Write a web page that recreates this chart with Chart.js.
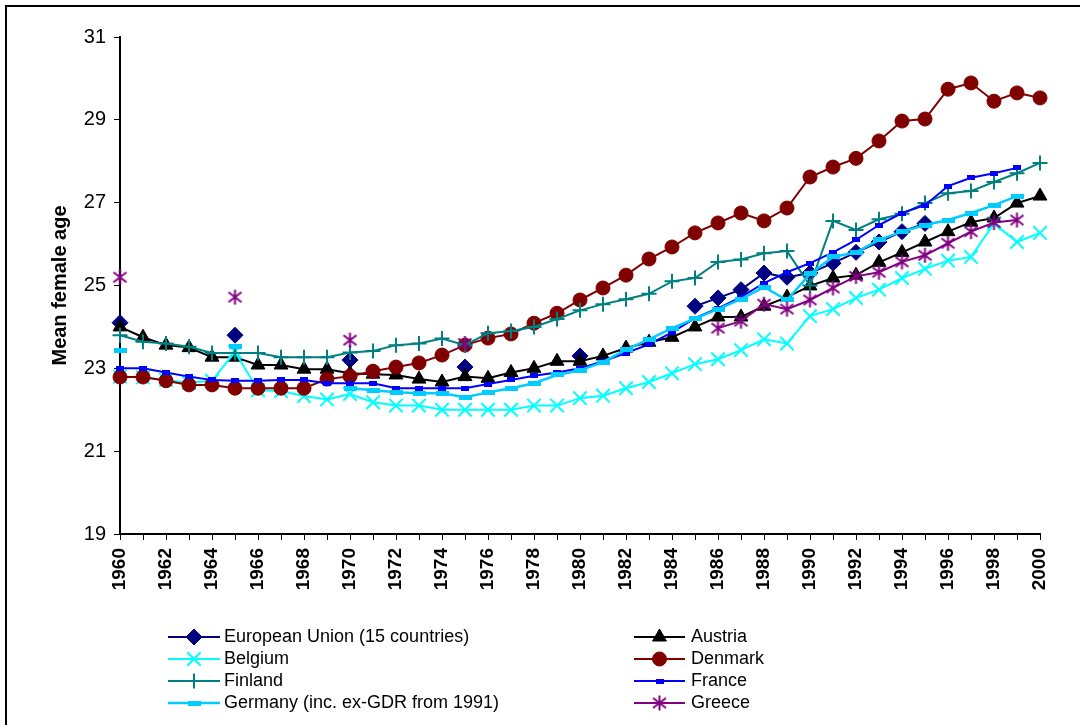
<!DOCTYPE html>
<html><head><meta charset="utf-8">
<script src="https://cdn.jsdelivr.net/npm/chart.js@4.4.1/dist/chart.umd.min.js"></script>
<style>html,body{margin:0;padding:0;background:#fff}canvas{display:block}</style>
</head><body>
<canvas id="c" width="1080" height="725" style="width:1080px;height:725px"></canvas>
<script>
const years = ['1960','1961','1962','1963','1964','1965','1966','1967','1968','1969',
  '1970','1971','1972','1973','1974','1975','1976','1977','1978','1979',
  '1980','1981','1982','1983','1984','1985','1986','1987','1988','1989',
  '1990','1991','1992','1993','1994','1995','1996','1997','1998','1999','2000'];
const yTicks = [19, 21, 23, 25, 27, 29, 31];
const euValues = [24.1,null,null,null,null,23.8,null,null,null,null,
  23.2,null,null,null,null,23.03,null,null,null,null,
  23.3,null,null,null,null,24.5,24.7,24.9,25.3,25.2,
  25.3,25.54,25.8,26.05,26.3,26.5,null,null,null,null,null];
const austriaValues = [24.0,23.75,23.56,23.5,23.27,23.27,23.08,23.08,22.98,22.98,
  22.88,22.86,22.84,22.74,22.67,22.8,22.76,22.9,23.0,23.17,
  23.17,23.3,23.49,23.63,23.75,24.0,24.24,24.24,24.5,24.72,
  24.99,25.18,25.25,25.56,25.8,26.05,26.3,26.53,26.63,26.99,27.16];
const belgiumValues = [22.8,22.78,22.72,22.65,22.7,23.4,22.47,22.45,22.33,22.25,
  22.38,22.18,22.1,22.1,22.0,22.0,22.0,22.0,22.1,22.1,
  22.28,22.34,22.52,22.67,22.88,23.1,23.22,23.44,23.7,23.6,
  24.26,24.43,24.7,24.9,25.18,25.4,25.6,25.69,26.5,26.05,26.27];
const denmarkValues = [22.79,22.79,22.7,22.6,22.6,22.52,22.52,22.52,22.52,22.74,
  22.81,22.93,23.03,23.13,23.32,23.56,23.73,23.83,24.09,24.33,
  24.65,24.94,25.25,25.64,25.93,26.27,26.51,26.75,26.56,26.87,
  27.62,27.86,28.07,28.49,28.97,29.02,29.74,29.89,29.45,29.65,29.53];
const finlandValues = [23.8,23.64,23.6,23.52,23.37,23.37,23.37,23.27,23.27,23.27,
  23.38,23.42,23.56,23.6,23.72,23.56,23.85,23.9,24.0,24.19,
  24.4,24.55,24.67,24.8,25.1,25.18,25.57,25.63,25.78,25.83,
  25.0,26.56,26.34,26.6,26.73,26.99,27.23,27.28,27.5,27.71,27.96];
const franceValues = [23.0,23.0,22.9,22.8,22.72,22.7,22.7,22.72,22.72,22.64,
  22.64,22.64,22.52,22.52,22.52,22.52,22.62,22.72,22.82,22.9,
  23.0,23.17,23.37,23.58,23.87,24.21,24.45,24.72,25.06,25.32,
  25.54,25.8,26.1,26.46,26.75,26.94,27.4,27.6,27.71,27.84,null];
const germanyValues = [23.44,null,null,null,null,23.52,null,null,null,null,
  22.52,22.47,22.42,22.4,22.4,22.3,22.42,22.52,22.64,22.84,
  22.95,23.15,23.45,23.7,23.97,24.2,24.43,24.67,24.96,24.65,
  25.28,25.69,25.8,26.1,26.3,26.46,26.58,26.75,26.94,27.16,null];
const greeceValues = [25.2,null,null,null,null,24.72,null,null,null,null,
  23.68,null,null,null,null,23.6,null,null,null,null,
  null,null,null,null,null,null,23.97,24.14,24.55,24.43,
  24.65,24.94,25.22,25.32,25.57,25.73,26.02,26.3,26.52,26.58,null];

function mk(w, h, draw) {
  const c = document.createElement('canvas');
  c.width = w; c.height = h;
  draw(c.getContext('2d'));
  return c;
}
const asterisk = mk(17, 17, g => {
  g.strokeStyle = '#800080'; g.lineWidth = 2;
  g.beginPath();
  g.moveTo(8.5, 1); g.lineTo(8.5, 16);
  g.moveTo(2, 3.5); g.lineTo(15, 13.5);
  g.moveTo(2, 13.5); g.lineTo(15, 3.5);
  g.stroke();
});
const franceMark = mk(8, 5, g => { g.fillStyle = '#0000FF'; g.fillRect(0, 0, 8, 5); });
const germanyMark = mk(13, 5, g => { g.fillStyle = '#00CCFF'; g.fillRect(0, 0, 13, 5); });

const seriesDefs = [
  {label:'European Union (15 countries)', data:euValues, color:'#000080', style:'rectRot', r:8, bw:1, lw:2},
  {label:'Austria', data:austriaValues, color:'#000000', style:'triangle', r:8, bw:1, lw:2},
  {label:'Belgium', data:belgiumValues, color:'#00FFFF', style:'crossRot', r:9.5, bw:2, lw:2},
  {label:'Denmark', data:denmarkValues, color:'#800000', style:'circle', r:7, bw:1, lw:2},
  {label:'Finland', data:finlandValues, color:'#008080', style:'cross', r:7.5, bw:2, lw:2},
  {label:'France', data:franceValues, color:'#0000FF', style:franceMark, r:5, bw:0, lw:2},
  {label:'Germany (inc. ex-GDR from 1991)', data:germanyValues, color:'#00CCFF', style:germanyMark, r:6, bw:0, lw:2.5},
  {label:'Greece', data:greeceValues, color:'#800080', style:asterisk, r:8, bw:0, lw:2}
];

const datasets = seriesDefs.map((s, i) => ({
  label: s.label, data: s.data,
  borderColor: s.color, backgroundColor: s.color, borderWidth: s.lw,
  pointStyle: s.style, pointRadius: s.r, pointBorderWidth: s.bw,
  pointBackgroundColor: s.color, pointBorderColor: s.color,
  spanGaps: false, tension: 0, order: seriesDefs.length - i
}));

const frame = {
  id: 'frame',
  beforeDraw(chart) {
    const ctx = chart.ctx;
    ctx.save();
    ctx.fillStyle = '#fff';
    ctx.fillRect(0, 0, chart.width, chart.height);
    ctx.strokeStyle = '#000'; ctx.lineWidth = 2;
    ctx.beginPath();
    ctx.moveTo(6, chart.height); ctx.lineTo(6, 6); ctx.lineTo(chart.width, 6);
    ctx.stroke();
    ctx.restore();
  },
  afterDraw(chart) {
    const ctx = chart.ctx;
    ctx.save();
    ctx.font = '18px "Liberation Sans", Arial, sans-serif';
    ctx.textBaseline = 'middle';
    ctx.textAlign = 'left';
    const cols = [{x0:168, x1:220, tx:224}, {x0:634, x1:685, tx:691}];
    const rows = [637, 659, 681, 703];
    seriesDefs.forEach((s, i) => {
      const col = cols[i % 2], y = rows[Math.floor(i / 2)];
      ctx.strokeStyle = s.color; ctx.lineWidth = s.lw;
      ctx.beginPath(); ctx.moveTo(col.x0, y); ctx.lineTo(col.x1, y); ctx.stroke();
      ctx.fillStyle = s.color; ctx.strokeStyle = s.color; ctx.lineWidth = s.bw;
      Chart.helpers.drawPoint(ctx, {pointStyle: s.style, radius: s.r, rotation: 0, borderWidth: s.bw}, (col.x0 + col.x1) / 2, y);
      ctx.fillStyle = '#000';
      ctx.fillText(s.label, col.tx, y);
    });
    ctx.restore();
  }
};

new Chart(document.getElementById('c'), {
  type: 'line',
  data: { labels: years, datasets },
  plugins: [frame],
  options: {
    responsive: false, animation: false, devicePixelRatio: 1,
    layout: { padding: { top: 37, right: 40, left: 0, bottom: 0 } },
    plugins: { legend: { display: false }, tooltip: { enabled: false } },
    scales: {
      x: {
        type: 'category', offset: false,
        grid: { drawOnChartArea: false, drawTicks: true, tickLength: 6, color: '#000', lineWidth: 1, offset: false },
        border: { display: true, color: '#000', width: 2 },
        ticks: {
          autoSkip: false, maxRotation: 90, minRotation: 90, padding: 8, color: '#000',
          font: { family: '"Liberation Sans", Arial, sans-serif', size: 19, weight: 'bold' },
          callback: function(v, i) { return i % 2 === 0 ? years[i] : ''; }
        },
        afterFit(scale) { scale.height = 725 - 534; }
      },
      y: {
        min: yTicks[0], max: yTicks[yTicks.length - 1],
        afterBuildTicks(scale) { scale.ticks = yTicks.map(v => ({ value: v })); },
        grid: { drawOnChartArea: false, drawTicks: true, tickLength: 6, color: '#000', lineWidth: 1 },
        border: { display: true, color: '#000', width: 2 },
        ticks: { padding: 8, color: '#000', font: { family: '"Liberation Sans", Arial, sans-serif', size: 20 } },
        title: { display: true, text: 'Mean female age', color: '#000', padding: { top: 48, bottom: 0 },
          font: { family: '"Liberation Sans", Arial, sans-serif', size: 20, weight: 'bold' } },
        afterFit(scale) { scale.width = 120; }
      }
    }
  }
});
</script>
</body></html>
